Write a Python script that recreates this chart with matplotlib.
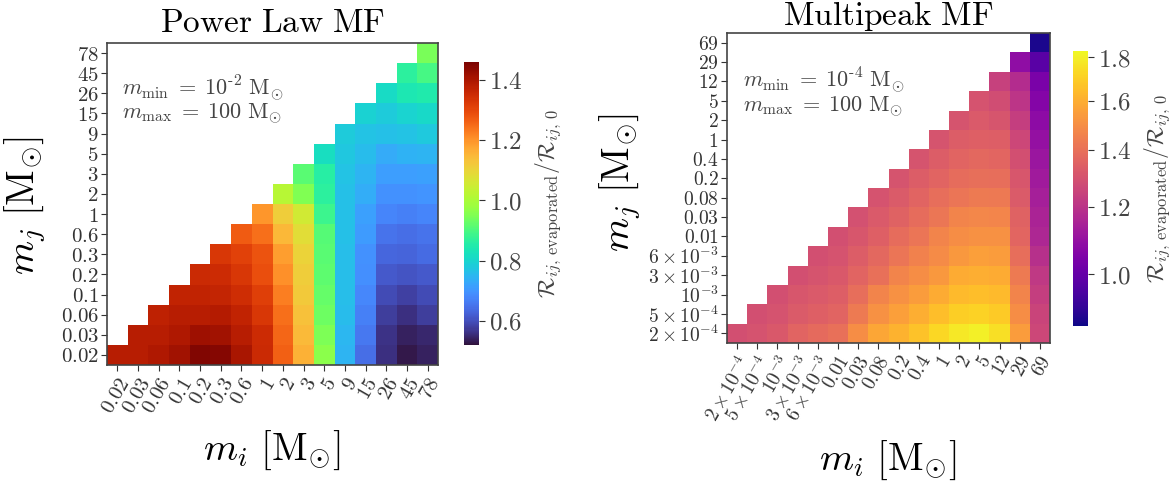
import numpy as np
import matplotlib
matplotlib.use("Agg")
import matplotlib.pyplot as plt
from matplotlib.colors import Normalize, LogNorm

plt.rcParams['mathtext.fontset'] = 'cm'
plt.rcParams['font.family'] = ['DejaVu Serif']
plt.rcParams['axes.formatter.use_mathtext'] = True

# ---------------- data ----------------
pl_mass_labels = ["0.02", "0.03", "0.06", "0.1", "0.2", "0.3", "0.6", "1", "2", "3",
                  "5", "9", "15", "26", "45", "78"]
# Power-law MF: ratio per column i (values for rows j = 0..i, bottom to top)
pl_ratio_columns = [
    [1.385],
    [1.385, 1.385],
    [1.394, 1.385, 1.375],
    [1.413, 1.394, 1.385, 1.371],
    [1.451, 1.418, 1.385, 1.371, 1.357],
    [1.446, 1.413, 1.390, 1.366, 1.352, 1.328],
    [1.404, 1.385, 1.371, 1.347, 1.328, 1.310, 1.272],
    [1.357, 1.352, 1.328, 1.314, 1.291, 1.281, 1.244, 1.197],
    [1.263, 1.258, 1.244, 1.225, 1.206, 1.187, 1.150, 1.112, 1.018],
    [1.159, 1.145, 1.136, 1.122, 1.112, 1.103, 1.084, 1.056, 0.952, 0.915],
    [0.962, 0.948, 0.934, 0.924, 0.920, 0.915, 0.910, 0.887, 0.868, 0.858, 0.821],
    [0.746, 0.750, 0.755, 0.760, 0.760, 0.760, 0.764, 0.764, 0.764, 0.769, 0.774, 0.783],
    [0.642, 0.656, 0.670, 0.680, 0.689, 0.694, 0.708, 0.717, 0.736, 0.746, 0.755, 0.769, 0.793],
    [0.558, 0.562, 0.576, 0.595, 0.614, 0.633, 0.652, 0.675, 0.694, 0.713, 0.732, 0.764, 0.783, 0.811],
    [0.529, 0.539, 0.558, 0.581, 0.605, 0.628, 0.642, 0.670, 0.694, 0.713, 0.741, 0.769, 0.797, 0.840, 0.868],
    [0.539, 0.548, 0.576, 0.595, 0.614, 0.638, 0.652, 0.675, 0.699, 0.717, 0.746, 0.779, 0.807, 0.849, 0.896, 0.943],
]
pl_vmin, pl_vmax = 0.52, 1.46
pl_cbar_ticks = [0.6, 0.8, 1.0, 1.2, 1.4]

mp_mass_labels = [r"2\times10^{-4}", r"5\times10^{-4}", r"10^{-3}", r"3\times10^{-3}",
                  r"6\times10^{-3}", "0.01", "0.03", "0.08", "0.2", "0.4", "1", "2",
                  "5", "12", "29", "69"]
mp_ratio_columns = [
    [1.290],
    [1.300, 1.290],
    [1.319, 1.300, 1.290],
    [1.359, 1.329, 1.314, 1.290],
    [1.380, 1.344, 1.324, 1.305, 1.290],
    [1.400, 1.359, 1.339, 1.319, 1.300, 1.290],
    [1.497, 1.432, 1.390, 1.359, 1.334, 1.314, 1.295],
    [1.577, 1.508, 1.464, 1.400, 1.369, 1.344, 1.324, 1.300],
    [1.612, 1.554, 1.508, 1.464, 1.416, 1.385, 1.349, 1.329, 1.305],
    [1.661, 1.600, 1.542, 1.497, 1.459, 1.416, 1.385, 1.359, 1.334, 1.305],
    [1.724, 1.649, 1.589, 1.531, 1.486, 1.464, 1.421, 1.390, 1.359, 1.334, 1.305],
    [1.776, 1.698, 1.636, 1.589, 1.531, 1.497, 1.464, 1.416, 1.385, 1.359, 1.334, 1.305],
    [1.802, 1.711, 1.649, 1.600, 1.554, 1.508, 1.475, 1.432, 1.395, 1.369, 1.344, 1.324, 1.300],
    [1.750, 1.686, 1.636, 1.589, 1.542, 1.508, 1.469, 1.426, 1.390, 1.364, 1.339, 1.310, 1.281, 1.243],
    [1.542, 1.497, 1.464, 1.432, 1.390, 1.364, 1.349, 1.329, 1.314, 1.290, 1.262, 1.234, 1.207, 1.180, 1.087],
    [1.262, 1.252, 1.234, 1.216, 1.189, 1.163, 1.150, 1.137, 1.124, 1.112, 1.096, 1.079, 1.063, 1.040, 0.980, 0.883],
]
mp_vmin, mp_vmax = 0.87, 1.83
mp_cbar_ticks = [1.0, 1.2, 1.4, 1.6, 1.8]


def to_grid(columns):
    n = len(columns)
    grid = np.full((n, n), np.nan)
    for i, col in enumerate(columns):
        for j, v in enumerate(col):
            grid[j, i] = v
    return np.ma.masked_invalid(grid)


W, H = 1176, 484
fig = plt.figure(figsize=(W / 100, H / 100), dpi=100)

def px_axes(x0, y0, x1, y1):
    return fig.add_axes([x0 / W, 1 - y1 / H, (x1 - x0) / W, (y1 - y0) / H])

TXT = '#333333'


def draw_panel(ax, cax, columns, labels, cmap, norm, title, title_pad, ann, ann_pos,
               cbar_ticks, tick_fs):
    grid = to_grid(columns)
    n = grid.shape[0]
    edges = np.arange(n + 1)
    mesh = ax.pcolormesh(edges, edges, grid, cmap=cmap, norm=norm)
    ax.set_xlim(0, n)
    ax.set_ylim(0, n)
    centers = np.arange(n) + 0.5
    ax.set_xticks(centers)
    ax.set_yticks(centers)
    ax.set_xticklabels([f"${l}$" for l in labels], rotation=60, ha='right',
                       rotation_mode='anchor', fontsize=tick_fs, color=TXT)
    ax.set_yticklabels([f"${l}$" for l in labels], fontsize=tick_fs, color=TXT)
    ax.tick_params(direction='out', length=4, width=0.8, colors='#333333', pad=2)
    ax.tick_params(axis='x', pad=3)
    for s in ax.spines.values():
        s.set_color('#444444')
        s.set_linewidth(1.2)
    ax.set_title(title, fontsize=24, pad=title_pad)
    ax.text(ann_pos[0], ann_pos[1], ann[0], transform=ax.transAxes, fontsize=16,
            color='#444444', va='baseline', ha='left')
    ax.text(ann_pos[0], ann_pos[2], ann[1], transform=ax.transAxes, fontsize=16,
            color='#444444', va='baseline', ha='left')
    cb = fig.colorbar(mesh, cax=cax)
    cb.outline.set_visible(False)
    cb.minorticks_off()
    cb.set_ticks(cbar_ticks)
    cb.set_ticklabels([f"${t:.1f}$" for t in cbar_ticks])
    cax.tick_params(labelsize=18, colors='#333333', length=4, width=0.8)
    for lab in cax.get_yticklabels():
        lab.set_color('#444444')
    cb.set_label(r"$\mathcal{R}_{ij,\,\mathrm{evaporated}}/\mathcal{R}_{ij,\,0}$",
                 fontsize=17, color='#444444', labelpad=8)
    return cb


ax1 = px_axes(107, 43, 438, 365)
cax1 = px_axes(464, 62, 479, 345)
draw_panel(ax1, cax1, pl_ratio_columns, pl_mass_labels, 'turbo',
           Normalize(vmin=pl_vmin, vmax=pl_vmax), r"$\mathrm{Power\ Law\ MF}$", 8,
           (r"$m_{\mathrm{min}}\;=\;10^{\text{-}2}\ \mathrm{M}_{\odot}$",
            r"$m_{\mathrm{max}}\;=\;100\ \mathrm{M}_{\odot}$"),
           (0.045, 0.8385, 0.764), pl_cbar_ticks, 15)

ax2 = px_axes(727, 33, 1050, 343)
cax2 = px_axes(1073, 51, 1088, 326)
draw_panel(ax2, cax2, mp_ratio_columns, mp_mass_labels, 'plasma',
           LogNorm(vmin=mp_vmin, vmax=mp_vmax), r"$\mathrm{Multipeak\ MF}$", 4,
           (r"$m_{\mathrm{min}}\;=\;10^{\text{-}4}\ \mathrm{M}_{\odot}$",
            r"$m_{\mathrm{max}}\;=\;100\ \mathrm{M}_{\odot}$"),
           (0.05, 0.827, 0.746), mp_cbar_ticks, 14)

LBL = r"$m_{%s}\ [\mathrm{M}_{\odot}]$"
fig.text(25 / W, 1 - 205 / H, LBL % 'j', rotation=90, fontsize=28, ha='center', va='center')
fig.text(272 / W, 1 - 450 / H, LBL % 'i', fontsize=28, ha='center', va='center')
fig.text(620 / W, 1 - 182 / H, LBL % 'j', rotation=90, fontsize=28, ha='center', va='center')
fig.text(888 / W, 1 - 460 / H, LBL % 'i', fontsize=28, ha='center', va='center')

fig.savefig("out.png", dpi=100)
